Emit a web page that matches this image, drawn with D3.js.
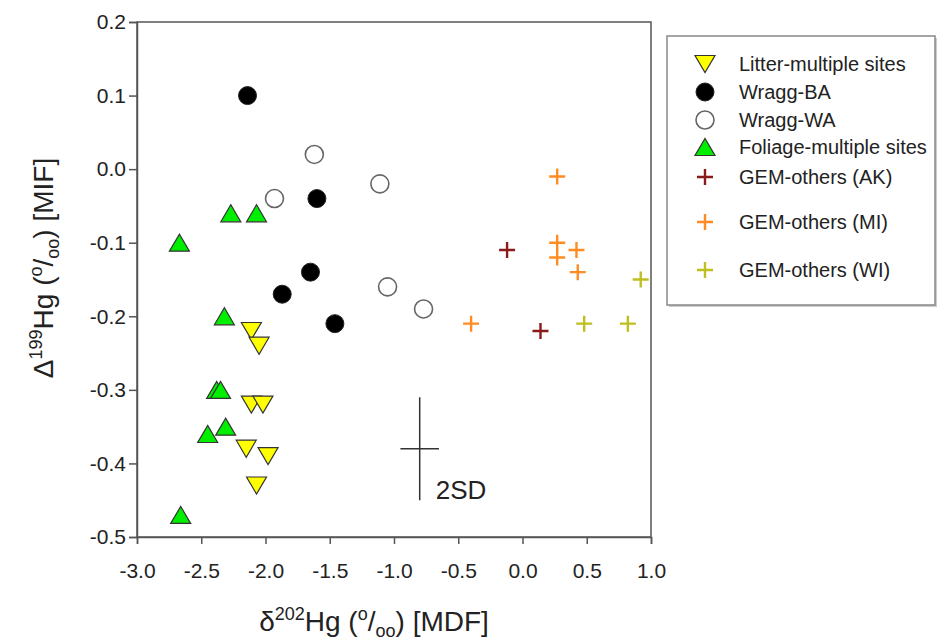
<!DOCTYPE html>
<html>
<head>
<meta charset="utf-8">
<script src="https://cdn.jsdelivr.net/npm/d3@7"></script>
<style>
  body { margin: 0; background: #fff; }
  svg { display: block; font-family: "Liberation Sans", Arial, sans-serif; }
</style>
</head>
<body>
<svg id="chart" width="940" height="642"></svg>
<script>
// ---- data ----
const xTicks = [-3.0, -2.5, -2.0, -1.5, -1.0, -0.5, 0.0, 0.5, 1.0];
const yTicks = [0.2, 0.1, 0.0, -0.1, -0.2, -0.3, -0.4, -0.5];

const litter = [[-2.11,-0.22],[-2.05,-0.24],[-2.11,-0.32],[-2.02,-0.32],[-2.15,-0.38],[-1.98,-0.39],[-2.07,-0.43]];
const wraggBA = [[-2.14,0.10],[-1.60,-0.04],[-1.65,-0.14],[-1.87,-0.17],[-1.46,-0.21]];
const wraggWA = [[-1.62,0.02],[-1.11,-0.02],[-1.93,-0.04],[-1.05,-0.16],[-0.77,-0.19]];
const foliage = [[-2.27,-0.06],[-2.07,-0.06],[-2.67,-0.10],[-2.32,-0.20],[-2.38,-0.30],[-2.35,-0.30],[-2.31,-0.35],[-2.45,-0.36],[-2.66,-0.47]];
const gemAK = [[-0.12,-0.11],[0.14,-0.22]];
const gemMI = [[0.27,-0.01],[0.27,-0.10],[0.27,-0.12],[0.42,-0.11],[0.43,-0.14],[-0.40,-0.21]];
const gemWI = [[0.92,-0.15],[0.48,-0.21],[0.82,-0.21]];
const sd2 = {x: -0.80, y: -0.38, dx: 0.15, dy: 0.07};

const seriesNames = ["Litter-multiple sites","Wragg-BA","Wragg-WA","Foliage-multiple sites","GEM-others (AK)","GEM-others (MI)","GEM-others (WI)"];

// ---- layout ----
const svg = d3.select("#chart");
const L = 137, R = 651, T = 22, B = 537;
const x = d3.scaleLinear().domain([-3, 1]).range([L, R]);
const y = d3.scaleLinear().domain([-0.5, 0.2]).range([B, T]);

// frame
svg.append("rect").attr("x", L).attr("y", T).attr("width", R - L).attr("height", B - T)
  .attr("fill", "none").attr("stroke", "#555").attr("stroke-width", 1.5);

// axes
const fmt = d => d3.format(".1f")(d).replace("−", "-");
const gx = svg.append("g").attr("transform", `translate(0,${B})`)
  .call(d3.axisBottom(x).tickValues(xTicks).tickSize(7).tickPadding(19).tickFormat(fmt));
const gy = svg.append("g").attr("transform", `translate(${L},0)`)
  .call(d3.axisLeft(y).tickValues(yTicks).tickSize(8).tickPadding(3).tickFormat(fmt));
[gx, gy].forEach(g => {
  g.attr("font-family", null).attr("font-size", null);
  g.select(".domain").attr("stroke", "#555").attr("stroke-width", 1.5);
  g.selectAll(".tick line").attr("stroke", "#555").attr("stroke-width", 1.5);
  g.selectAll(".tick text").attr("fill", "#222").style("font-size", "21px");
});

// axis titles
function title(sel, sym, sup, tail) {
  sel.append("tspan").text(sym);
  sel.append("tspan").attr("dy", -11).style("font-size", "18px").text(sup);
  sel.append("tspan").attr("dy", 11).text("Hg (");
  sel.append("tspan").attr("dy", -11).style("font-size", "18px").text("o");
  sel.append("tspan").attr("dy", 11).text("/");
  sel.append("tspan").attr("dy", 6).style("font-size", "18px").text("oo");
  sel.append("tspan").attr("dy", -6).text(tail);
}
const xt = svg.append("text").attr("x", 374).attr("y", 631).attr("text-anchor", "middle")
  .attr("fill", "#222").style("font-size", "28px");
title(xt, "δ", "202", ") [MDF]");

const yt = svg.append("text").attr("transform", "translate(53,268) rotate(-90)").attr("text-anchor", "middle")
  .attr("fill", "#222").style("font-size", "28px");
title(yt, "Δ", "199", ") [MIF]");

// ---- marker drawing ----
function triDown(g, cx, cy, s) {
  const w = s, h = s * 0.85;
  g.append("path").attr("d", `M${cx - w/2},${cy - h/2}L${cx + w/2},${cy - h/2}L${cx},${cy + h/2}Z`)
    .attr("fill", "#ffff00").attr("stroke", "#333").attr("stroke-width", 1.2);
}
function triUp(g, cx, cy, s) {
  const w = s, h = s * 0.85;
  g.append("path").attr("d", `M${cx - w/2},${cy + h/2}L${cx + w/2},${cy + h/2}L${cx},${cy - h/2}Z`)
    .attr("fill", "#00ee00").attr("stroke", "#333").attr("stroke-width", 1.2);
}
function dotFilled(g, cx, cy) {
  g.append("circle").attr("cx", cx).attr("cy", cy).attr("r", 9).attr("fill", "#000").attr("stroke", "#222").attr("stroke-width", 1);
}
function dotOpen(g, cx, cy) {
  g.append("circle").attr("cx", cx).attr("cy", cy).attr("r", 9).attr("fill", "#fff").attr("stroke", "#666").attr("stroke-width", 1.6);
}
function plus(g, cx, cy, color) {
  const s = 8;
  g.append("path").attr("d", `M${cx - s},${cy}H${cx + s}M${cx},${cy - s}V${cy + s}`)
    .attr("stroke", color).attr("stroke-width", 2.4).attr("fill", "none");
}

const cAK = "#8b1a1a", cMI = "#ff8c22", cWI = "#bfbf1f";

const gm = svg.append("g");
litter.forEach(d => triDown(gm, x(d[0]), y(d[1]), 20));
wraggBA.forEach(d => dotFilled(gm, x(d[0]), y(d[1])));
wraggWA.forEach(d => dotOpen(gm, x(d[0]), y(d[1])));
foliage.forEach(d => triUp(gm, x(d[0]), y(d[1]), 20));
gemAK.forEach(d => plus(gm, x(d[0]), y(d[1]), cAK));
gemMI.forEach(d => plus(gm, x(d[0]), y(d[1]), cMI));
gemWI.forEach(d => plus(gm, x(d[0]), y(d[1]), cWI));

// 2SD error cross
svg.append("path")
  .attr("d", `M${x(sd2.x - sd2.dx)},${y(sd2.y)}H${x(sd2.x + sd2.dx)}M${x(sd2.x)},${y(sd2.y + sd2.dy)}V${y(sd2.y - sd2.dy)}`)
  .attr("stroke", "#333").attr("stroke-width", 1.5).attr("fill", "none");
svg.append("text").attr("x", x(sd2.x) + 16).attr("y", y(sd2.y) + 50)
  .attr("fill", "#222").style("font-size", "26px").text("2SD");

// ---- legend ----
const lg = svg.append("g");
lg.append("rect").attr("x", 669).attr("y", 38).attr("width", 268).attr("height", 269).attr("fill", "#ccc");
lg.append("rect").attr("x", 667).attr("y", 36).attr("width", 268).attr("height", 269)
  .attr("fill", "#fff").attr("stroke", "#888").attr("stroke-width", 1.5);
const rows = [64, 92, 120, 147, 177, 222, 270];
const sx = 705, tx = 739;
triDown(lg, sx, rows[0], 20);
dotFilled(lg, sx, rows[1]);
dotOpen(lg, sx, rows[2]);
triUp(lg, sx, rows[3], 20);
plus(lg, sx, rows[4], cAK);
plus(lg, sx, rows[5], cMI);
plus(lg, sx, rows[6], cWI);
seriesNames.forEach((n, i) => {
  lg.append("text").attr("x", tx).attr("y", rows[i]).attr("dy", "0.35em")
    .attr("fill", "#222").style("font-size", "20px").text(n);
});
</script>
</body>
</html>
